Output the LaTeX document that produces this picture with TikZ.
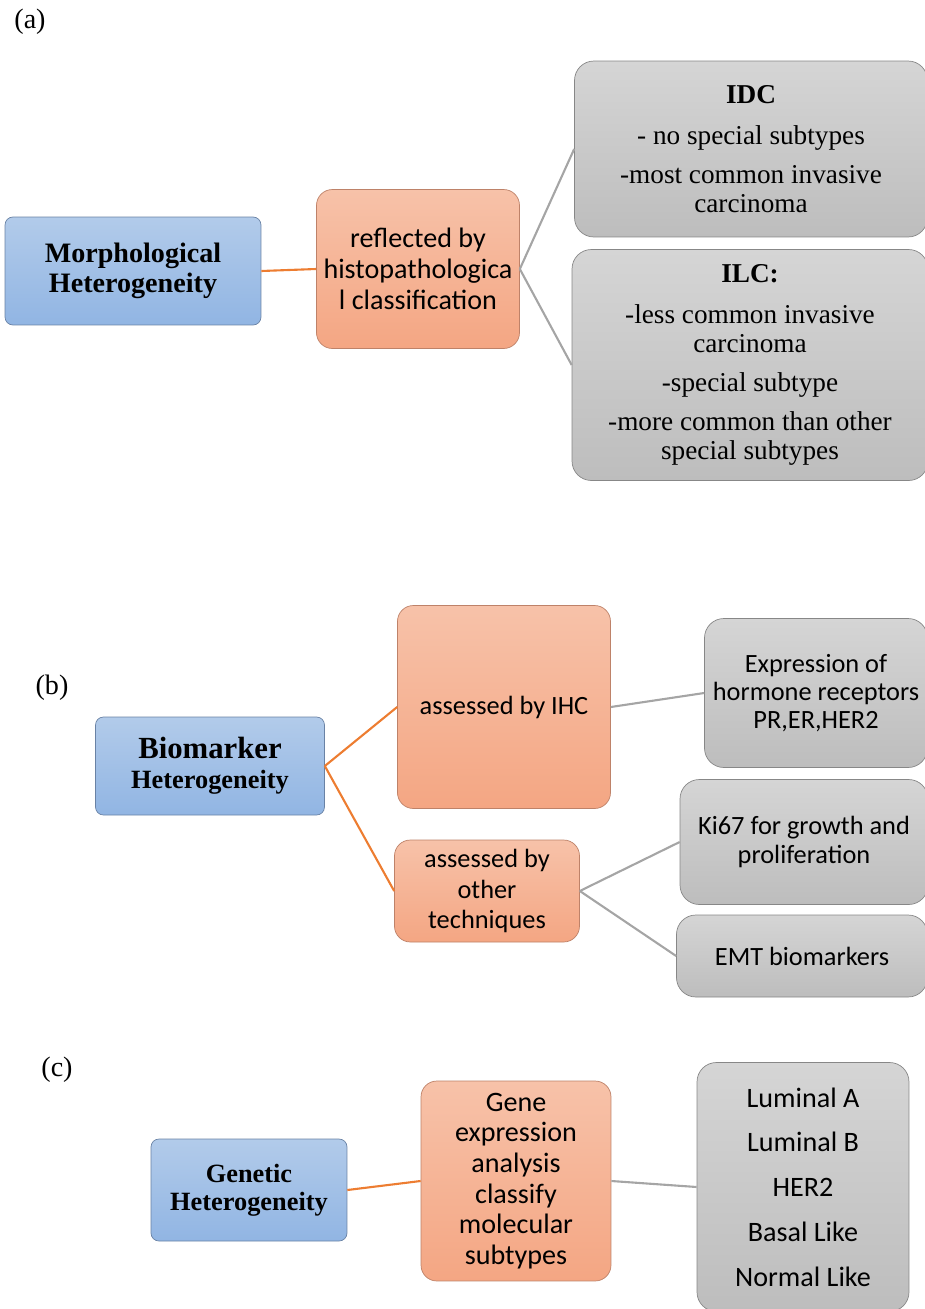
\documentclass[tikz,border=0pt]{standalone}
\usepackage{fontspec}
\setmainfont{Liberation Serif}
\newfontfamily\calibri{Carlito}
\usepackage{tikz}
\definecolor{bluetop}{RGB}{178,203,234}
\definecolor{bluebot}{RGB}{145,181,227}
\definecolor{blueline}{RGB}{105,130,165}
\definecolor{orangetop}{RGB}{247,194,169}
\definecolor{orangebot}{RGB}{244,166,131}
\definecolor{orangeline}{RGB}{190,130,105}
\definecolor{greytop}{RGB}{213,213,213}
\definecolor{greybot}{RGB}{189,189,189}
\definecolor{greyline}{RGB}{135,135,135}
\definecolor{linkorange}{RGB}{237,125,49}
\definecolor{linkgrey}{RGB}{165,165,165}

\begin{document}
\begin{tikzpicture}[x=0.02cm, y=-0.02cm,
    headbox/.style={rectangle, rounded corners=4.5pt, draw=blueline, top color=bluetop, bottom color=bluebot, align=center, inner sep=0pt},
    midbox/.style={rectangle, rounded corners=9pt, draw=orangeline, top color=orangetop, bottom color=orangebot, align=center, inner sep=0pt},
    leafbox/.style={rectangle, rounded corners=11pt, draw=greyline, top color=greytop, bottom color=greybot, align=center, inner sep=0pt},
    tag/.style={font=\fontsize{16}{18}\selectfont},
    olink/.style={linkorange, line width=1.2pt},
    glink/.style={linkgrey, line width=1.2pt}
]
\useasboundingbox (0,0) rectangle (925,1309);

% (a)
\node[tag] (taga) at (30,22) {(a)};
\node[headbox, minimum width=5.12cm, minimum height=2.16cm, font=\bfseries\fontsize{16}{17}\selectfont] (morph) at (133,271) {Morphological\\Heterogeneity};
\node[midbox, minimum width=4.06cm, minimum height=3.18cm, font=\calibri\fontsize{16}{17.6}\selectfont] (refl) at (418,269) {reflected by\\histopathologica\\l classification};
\node[leafbox, minimum width=7.06cm, minimum height=3.52cm, font=\fontsize{15.5}{16.4}\selectfont] (idc) at (751,149) {\textbf{IDC}\\[7pt]- no special subtypes\\[6pt]-most common invasive\\carcinoma};
\node[leafbox, minimum width=7.12cm, minimum height=4.62cm, font=\fontsize{15.5}{16.4}\selectfont] (ilc) at (750,365) {\textbf{ILC:}\\[7pt]-less common invasive\\carcinoma\\[6pt]-special subtype\\[6pt]-more common than other\\special subtypes};

\draw[olink] (morph.east) -- (refl.west);
\draw[glink] (refl.east) -- (idc.west);
\draw[glink] (refl.east) -- (ilc.west);

% (b)
\node[tag] (tagb) at (52,688) {(b)};
\node[headbox, minimum width=4.58cm, minimum height=1.96cm, font=\bfseries\fontsize{15}{17}\selectfont] (bio) at (210,766) {{\fontsize{17.5}{17}\selectfont Biomarker}\\Heterogeneity};
\node[midbox, minimum width=4.26cm, minimum height=4.06cm, font=\calibri\fontsize{15}{17}\selectfont] (ihc) at (504,707) {assessed by IHC};
\node[midbox, minimum width=3.70cm, minimum height=2.04cm, font=\calibri\fontsize{15}{17.3}\selectfont] (oth) at (487,891) {assessed by\\other\\techniques};
\node[leafbox, minimum width=4.46cm, minimum height=2.98cm, font=\calibri\fontsize{15}{15.9}\selectfont] (expr) at (816,693) {Expression of\\hormone receptors\\PR,ER,HER2};
\node[leafbox, minimum width=4.96cm, minimum height=2.50cm, font=\calibri\fontsize{15}{16.5}\selectfont] (ki) at (804,842) {Ki67 for growth and\\proliferation};
\node[leafbox, minimum width=5.02cm, minimum height=1.64cm, font=\calibri\fontsize{15}{17}\selectfont] (emt) at (802,956) {EMT biomarkers};

\draw[olink] (bio.east) -- (ihc.west);
\draw[olink] (bio.east) -- (oth.west);
\draw[glink] (ihc.east) -- (expr.west);
\draw[glink] (oth.east) -- (ki.west);
\draw[glink] (oth.east) -- (emt.west);

% (c)
\node[tag] (tagc) at (57,1070) {(c)};
\node[headbox, minimum width=3.92cm, minimum height=2.04cm, font=\bfseries\fontsize{15}{16}\selectfont] (gen) at (249,1190) {Genetic\\Heterogeneity};
\node[midbox, minimum width=3.80cm, minimum height=4.00cm, font=\calibri\fontsize{16}{17.5}\selectfont] (gene) at (516,1181) {Gene\\expression\\analysis\\classify\\molecular\\subtypes};
\node[leafbox, minimum width=4.24cm, minimum height=4.98cm, font=\calibri\fontsize{16}{25.5}\selectfont] (sub) at (803,1187) {Luminal A\\Luminal B\\HER2\\Basal Like\\Normal Like};

\draw[olink] (gen.east) -- (gene.west);
\draw[glink] (gene.east) -- (sub.west);
\end{tikzpicture}
\end{document}
